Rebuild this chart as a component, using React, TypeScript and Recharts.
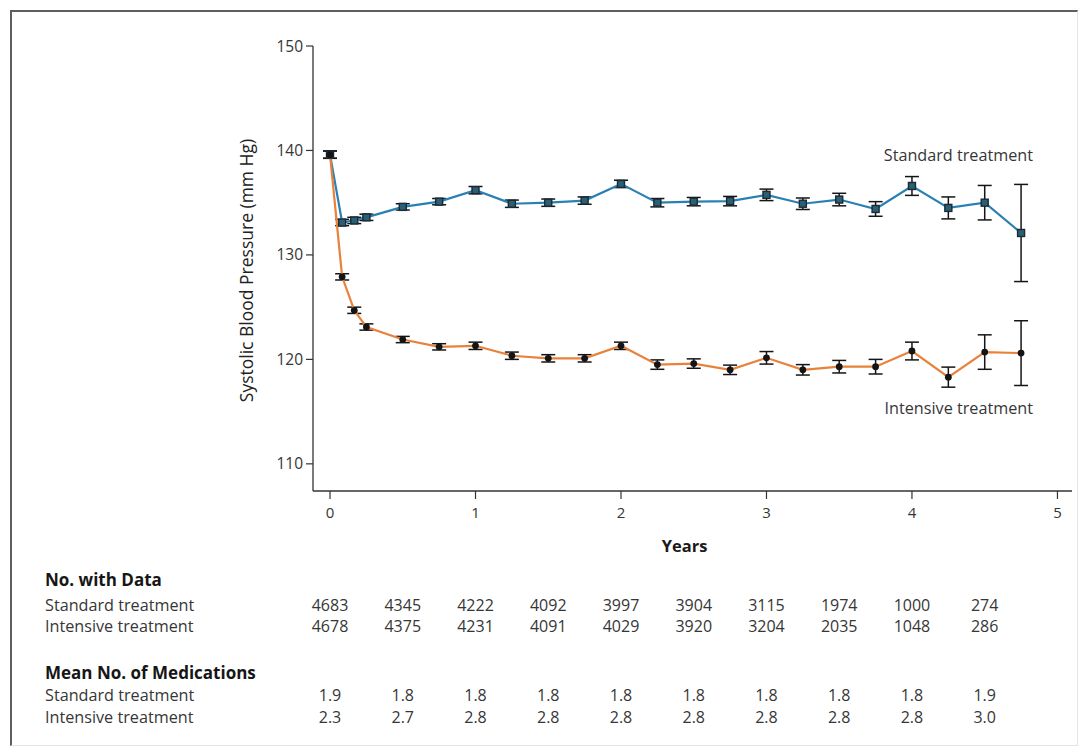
import { LineChart, Line, XAxis, YAxis, ErrorBar, Label, Customized } from 'recharts';

// ─── Data ────────────────────────────────────────────────────────────────────
const years = [0, 1 / 12, 2 / 12, 0.25, 0.5, 0.75, 1, 1.25, 1.5, 1.75, 2, 2.25, 2.5, 2.75, 3, 3.25, 3.5, 3.75, 4, 4.25, 4.5, 4.75];

const standardBP = [139.6, 133.1, 133.3, 133.6, 134.6, 135.1, 136.2, 134.9, 135.0, 135.2, 136.8, 135.0, 135.1, 135.15, 135.75, 134.9, 135.3, 134.4, 136.6, 134.5, 135.0, 132.1];
const standardErr = [0.35, 0.3, 0.3, 0.3, 0.3, 0.3, 0.35, 0.35, 0.35, 0.35, 0.35, 0.4, 0.4, 0.45, 0.55, 0.55, 0.6, 0.7, 0.9, 1.05, 1.65, 4.65];

const intensiveBP = [139.6, 127.9, 124.7, 123.1, 121.9, 121.2, 121.3, 120.35, 120.1, 120.1, 121.3, 119.5, 119.6, 119.0, 120.15, 119.0, 119.3, 119.3, 120.8, 118.3, 120.7, 120.6];
const intensiveErr = [0.35, 0.3, 0.3, 0.3, 0.3, 0.3, 0.35, 0.35, 0.35, 0.35, 0.35, 0.45, 0.45, 0.45, 0.6, 0.5, 0.6, 0.7, 0.85, 0.96, 1.65, 3.1];

const yearTicks = [0, 0.5, 1, 1.5, 2, 2.5, 3, 3.5, 4, 4.5, 5];
const tableYears = [0, 0.5, 1, 1.5, 2, 2.5, 3, 3.5, 4, 4.5];

const standardN = [4683, 4345, 4222, 4092, 3997, 3904, 3115, 1974, 1000, 274];
const intensiveN = [4678, 4375, 4231, 4091, 4029, 3920, 3204, 2035, 1048, 286];
const standardMeds = ['1.9', '1.8', '1.8', '1.8', '1.8', '1.8', '1.8', '1.8', '1.8', '1.9'];
const intensiveMeds = ['2.3', '2.7', '2.8', '2.8', '2.8', '2.8', '2.8', '2.8', '2.8', '3.0'];

const data = years.map((t, i) => ({
  t,
  std: standardBP[i],
  stdErr: standardErr[i],
  int: intensiveBP[i],
  intErr: intensiveErr[i],
}));

const FONT = '"Open Sans", "Noto Sans", sans-serif';
const TEXT = '#363636';
const BLUE = '#2a80b4';
const ORANGE = '#e8823a';

// ─── Markers ─────────────────────────────────────────────────────────────────
function SquareDot({ cx, cy, index }: any) {
  if (cx == null || cy == null) return <g key={`s-${index}`} />;
  return (
    <rect key={`s-${index}`} x={cx - 3.5} y={cy - 3.5} width={7} height={7} fill="#2b5f74" stroke="#1b2a34" strokeWidth={1.4} />
  );
}

function RoundDot({ cx, cy, index }: any) {
  if (cx == null || cy == null) return <g key={`r-${index}`} />;
  return <circle key={`r-${index}`} cx={cx} cy={cy} r={3.4} fill="#141414" />;
}

// ─── X axis ticks + table under the axis ─────────────────────────────────────
function YearTick({ x, y, payload }: any) {
  const v = payload.value as number;
  const i = tableYears.indexOf(v);
  const isInt = Number.isInteger(v);
  const cell = (dy: number, txt: string | number) => (
    <text x={x} y={y + dy} dy="0.35em" textAnchor="middle" fontSize={16} fill={TEXT} fontFamily={FONT}>
      {txt}
    </text>
  );
  const rowLabel = (dy: number, txt: string, bold = false) => (
    <text x={45} y={y + dy} dy="0.35em" textAnchor="start" fontSize={bold ? 17 : 16.2} fontWeight={bold ? 700 : 400} fill={bold ? '#161616' : TEXT} fontFamily={FONT}>
      {txt}
    </text>
  );
  return (
    <g>
      {isInt && <line x1={x} x2={x} y1={y} y2={y + 8} stroke="#333" strokeWidth={1.2} />}
      {isInt && (
        <text x={x} y={y + 22} dy="0.35em" textAnchor="middle" fontSize={15} fill={TEXT} fontFamily={FONT}>
          {v}
        </text>
      )}
      {i >= 0 && cell(114, standardN[i])}
      {i >= 0 && cell(135, intensiveN[i])}
      {i >= 0 && cell(204, standardMeds[i])}
      {i >= 0 && cell(226, intensiveMeds[i])}
      {i === 0 && rowLabel(89, 'No. with Data', true)}
      {i === 0 && rowLabel(114, 'Standard treatment')}
      {i === 0 && rowLabel(135, 'Intensive treatment')}
      {i === 0 && rowLabel(182, 'Mean No. of Medications', true)}
      {i === 0 && rowLabel(204, 'Standard treatment')}
      {i === 0 && rowLabel(226, 'Intensive treatment')}
    </g>
  );
}

function YearsTitle({ viewBox }: any) {
  return (
    <text x={viewBox.x + viewBox.width / 2 - 8} y={viewBox.y + 55} dy="0.35em" textAnchor="middle" fontSize={16.5} fontWeight={700} fill="#1a1a1a" fontFamily={FONT}>
      Years
    </text>
  );
}

function BpTitle({ viewBox }: any) {
  const cx = viewBox.x + 14;
  const cy = viewBox.y + viewBox.height / 2 + 2;
  return (
    <text x={cx} y={cy} dy="0.35em" textAnchor="middle" transform={`rotate(-90, ${cx}, ${cy})`} fontSize={17.5} fill="#222" fontFamily={FONT}>
      Systolic Blood Pressure (mm Hg)
    </text>
  );
}

function SeriesNames() {
  return (
    <g fontFamily={FONT} fontSize={16.2} fill={TEXT}>
      <text x={1033} y={155} dy="0.35em" textAnchor="end">Standard treatment</text>
      <text x={1033} y={408} dy="0.35em" textAnchor="end">Intensive treatment</text>
    </g>
  );
}

export default function App() {
  return (
    <div style={{ position: 'absolute', left: 0, top: 0, width: 1086, height: 747, background: '#fff', overflow: 'hidden' }}>
      <div
        style={{
          position: 'absolute',
          left: 10,
          top: 10,
          right: 8,
          bottom: 1,
          borderTop: '2px solid #5e5e5e',
          borderLeft: '2px solid #5e5e5e',
          borderRight: '1px solid #e4e4e4',
          borderBottom: '1px solid #e4e4e4',
        }}
      />
      <div style={{ position: 'absolute', left: 0, top: 0 }}>
        <LineChart width={1086} height={747} data={data} margin={{ top: 46, right: 14, bottom: 6, left: 233 }}>
          <XAxis
            dataKey="t"
            type="number"
            domain={[-0.117, 5.1]}
            ticks={yearTicks}
            interval={0}
            tickLine={false}
            tickSize={0}
            tickMargin={0}
            height={250}
            axisLine={{ stroke: '#333', strokeWidth: 1.3 }}
            tick={(p: any) => <YearTick {...p} />}
          >
            <Label content={<YearsTitle />} />
          </XAxis>
          <YAxis
            type="number"
            domain={[107.4, 150]}
            ticks={[110, 120, 130, 140, 150]}
            width={80}
            tickSize={7}
            tickMargin={3}
            axisLine={{ stroke: '#333', strokeWidth: 1.3 }}
            tickLine={{ stroke: '#333', strokeWidth: 1.2 }}
            tick={{ fill: TEXT, fontSize: 15.5, fontFamily: FONT }}
          >
            <Label content={<BpTitle />} />
          </YAxis>
          <Line dataKey="std" stroke={BLUE} strokeWidth={2.2} dot={(p: any) => <SquareDot {...p} />} activeDot={false} isAnimationActive={false}>
            <ErrorBar dataKey="stdErr" direction="y" width={7} stroke="#151515" strokeWidth={1.5} isAnimationActive={false} />
          </Line>
          <Line dataKey="int" stroke={ORANGE} strokeWidth={2.2} dot={(p: any) => <RoundDot {...p} />} activeDot={false} isAnimationActive={false}>
            <ErrorBar dataKey="intErr" direction="y" width={7} stroke="#151515" strokeWidth={1.5} isAnimationActive={false} />
          </Line>
          <Customized component={<SeriesNames />} />
        </LineChart>
      </div>
    </div>
  );
}
